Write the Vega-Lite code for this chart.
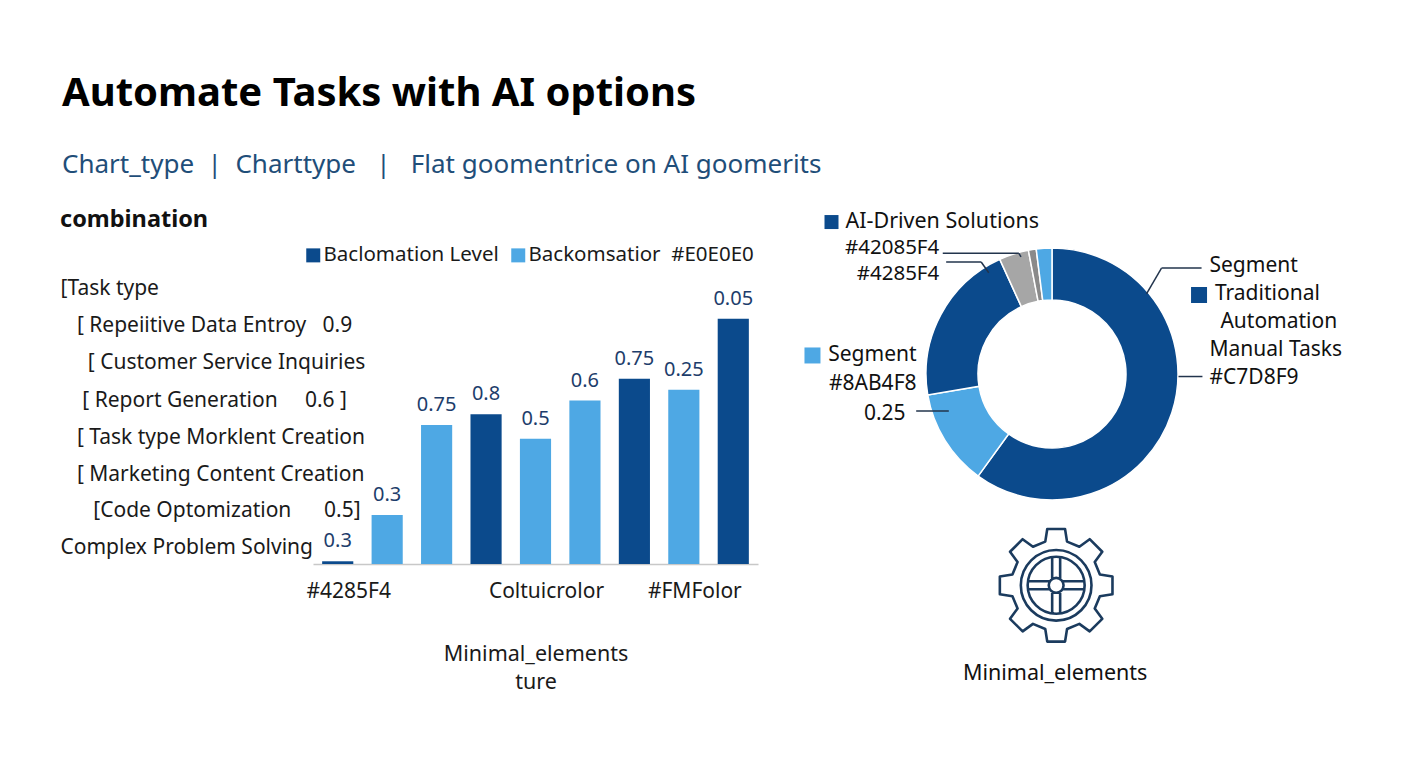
{
  "$schema": "https://vega.github.io/schema/vega-lite/v6.json",
  "background": "white",
  "padding": {"left": 60, "top": 73, "right": 10, "bottom": 5},
  "title": {
    "text": "Automate Tasks with AI options",
    "subtitle": "Chart_type\u00a0\u00a0|\u00a0\u00a0Charttype\u00a0\u00a0\u00a0|\u00a0\u00a0\u00a0Flat goomentrice on AI goomerits",
    "anchor": "start",
    "dx": 2,
    "fontSize": 40,
    "fontWeight": "bold",
    "color": "#000000",
    "subtitleFontSize": 26,
    "subtitleColor": "#1f4e79",
    "subtitlePadding": 38,
    "offset": 30
  },
  "resolve": {"scale": {"color": "independent"}, "legend": {"color": "independent"}},
  "config": {
    "font": "Noto Sans",
    "view": {"stroke": null},
    "concat": {"spacing": 46}
  },
  "hconcat": [
    {
      "width": 445,
      "height": 316,
      "title": {"text": "combination", "anchor": "start", "fontSize": 23.5, "fontWeight": "bold", "color": "#111111", "offset": 14},
      "data": {
        "values": [
          {"bar": "#4285F4", "level": 0.01, "label": "0.3", "series": "Baclomation Level"},
          {"bar": "Bar 2", "level": 0.18, "label": "0.3", "series": "Backomsatior\u00a0\u00a0#E0E0E0"},
          {"bar": "Bar 3", "level": 0.51, "label": "0.75", "series": "Backomsatior\u00a0\u00a0#E0E0E0"},
          {"bar": "Bar 4", "level": 0.55, "label": "0.8", "series": "Baclomation Level"},
          {"bar": "Coltuicrolor", "level": 0.46, "label": "0.5", "series": "Backomsatior\u00a0\u00a0#E0E0E0"},
          {"bar": "Bar 6", "level": 0.6, "label": "0.6", "series": "Backomsatior\u00a0\u00a0#E0E0E0"},
          {"bar": "Bar 7", "level": 0.68, "label": "0.75", "series": "Baclomation Level"},
          {"bar": "#FMFolor", "level": 0.64, "label": "0.25", "series": "Backomsatior\u00a0\u00a0#E0E0E0"},
          {"bar": "Bar 9", "level": 0.9, "label": "0.05", "series": "Baclomation Level"}
        ]
      },
      "layer": [
        {
          "mark": {"type": "bar"},
          "encoding": {
            "x": {
              "field": "bar",
              "type": "nominal",
              "sort": null,
              "scale": {"paddingInner": 0.37, "paddingOuter": 0.185},
              "axis": {
                "labelExpr": "indexof(['#4285F4', 'Coltuicrolor', '#FMFolor'], datum.value) >= 0 ? datum.value : ''",
                "labelAngle": 0,
                "ticks": false,
                "domainColor": "#c8c8c8",
                "domainWidth": 1.5,
                "labelFontSize": 21,
                "labelColor": "#1a1a1a",
                "labelPadding": 16,
                "labelOffset": 11,
                "title": ["Minimal_elements", "ture"],
                "titleFontSize": 21.5,
                "titleFontWeight": "normal",
                "titleColor": "#1a1a1a",
                "titlePadding": 42,
                "titleLineHeight": 28
              }
            },
            "y": {
              "field": "level",
              "type": "quantitative",
              "scale": {"domain": [0, 1.16], "nice": false},
              "axis": {
                "values": [1.01, 0.874, 0.738, 0.602, 0.466, 0.33, 0.195, 0.062],
                "labelExpr": "datum.value == 1.01 ? '[Task type' : datum.value == 0.874 ? '\u200b\u00a0\u00a0\u00a0[\u00a0Repeiitive Data Entroy\u00a0\u00a0\u00a00.9' : datum.value == 0.738 ? '\u200b\u00a0\u00a0\u00a0\u00a0\u00a0[\u00a0Customer Service Inquiries' : datum.value == 0.602 ? '\u200b\u00a0\u00a0\u00a0\u00a0[\u00a0Report Generation\u00a0\u00a0\u00a0\u00a0\u00a00.6\u00a0]' : datum.value == 0.466 ? '\u200b\u00a0\u00a0\u00a0[\u00a0Task type Morklent Creation' : datum.value == 0.33 ? '\u200b\u00a0\u00a0\u00a0[\u00a0Marketing Content Creation' : datum.value == 0.195 ? '\u200b\u00a0\u00a0\u00a0\u00a0\u00a0\u00a0[Code Optomization\u00a0\u00a0\u00a0\u00a0\u00a0\u00a00.5]' : datum.value == 0.062 ? 'Complex Problem Solving' : ''",
                "labelAlign": "left",
                "labelBaseline": "middle",
                "labelPadding": 253,
                "labelLimit": 400,
                "labelFontSize": 21,
                "labelColor": "#1a1a1a",
                "ticks": false,
                "domain": false,
                "grid": false,
                "title": null
              }
            },
            "color": {
              "field": "series",
              "type": "nominal",
              "scale": {
                "domain": ["Baclomation Level", "Backomsatior\u00a0\u00a0#E0E0E0"],
                "range": ["#0b4a8c", "#4ea8e4"]
              },
              "legend": {
                "orient": "none",
                "legendX": -10,
                "legendY": -3,
                "direction": "horizontal",
                "title": null,
                "symbolType": "square",
                "symbolSize": 196,
                "symbolStrokeWidth": 0,
                "labelFontSize": 20.5,
                "labelColor": "#1a1a1a",
                "labelLimit": 400,
                "labelOffset": 0,
                "columnPadding": 9,
                "encode": {
                  "symbols": {
                    "update": {
                      "fill": {"signal": "datum.value === 'Baclomation Level' ? '#3b88d6' : '#4ea8e4'"}
                    }
                  }
                }
              }
            }
          }
        },
        {
          "mark": {"type": "text", "baseline": "middle", "dy": -20, "fontSize": 20, "color": "#1d3d6b"},
          "encoding": {
            "x": {"field": "bar", "type": "nominal", "sort": null},
            "y": {"field": "level", "type": "quantitative"},
            "text": {"field": "label"}
          }
        }
      ]
    },
    {
      "width": 252,
      "height": 252,
      "layer": [
        {
          "data": {
            "values": [
              {"segment": "Traditional Automation", "share": 0.5997, "idx": 1},
              {"segment": "Segment #8AB4F8", "share": 0.1237, "idx": 2},
              {"segment": "#4285F4", "share": 0.2086, "idx": 3},
              {"segment": "#42085F4", "share": 0.038, "idx": 4},
              {"segment": "Other", "share": 0.01, "idx": 5},
              {"segment": "AI-Driven Solutions", "share": 0.02, "idx": 6}
            ]
          },
          "mark": {"type": "arc", "innerRadius": 74, "outerRadius": 126, "stroke": "white", "strokeWidth": 1.5},
          "encoding": {
            "theta": {"field": "share", "type": "quantitative", "stack": true},
            "order": {"field": "idx"},
            "color": {
              "field": "segment",
              "type": "nominal",
              "scale": {
                "domain": ["Traditional Automation", "Segment #8AB4F8", "#4285F4", "#42085F4", "Other", "AI-Driven Solutions"],
                "range": ["#0b4a8c", "#4ea8e4", "#0b4a8c", "#a6a6a6", "#8a8a8a", "#4ea8e4"]
              },
              "legend": null
            }
          }
        },
        {
          "data": {"values": [{"label": "AI-Driven Solutions"}]},
          "mark": {"type": "text", "align": "left", "baseline": "middle", "fontSize": 21.5, "color": "#111111"},
          "encoding": {
            "x": {"datum": -1.639, "type": "quantitative", "scale": {"domain": [-1, 1], "nice": false, "zero": false}, "axis": null},
            "y": {"datum": 1.206, "type": "quantitative", "scale": {"domain": [-1, 1], "nice": false, "zero": false}, "axis": null},
            "text": {"field": "label"}
          }
        },
        {
          "data": {"values": [{"label": ["#42085F4", "#4285F4"]}]},
          "mark": {"type": "text", "align": "right", "baseline": "middle", "fontSize": 20.5, "lineHeight": 25.5, "color": "#111111"},
          "encoding": {
            "x": {"datum": -0.895, "type": "quantitative", "scale": {"domain": [-1, 1], "nice": false, "zero": false}, "axis": null},
            "y": {"datum": 1.0, "type": "quantitative", "scale": {"domain": [-1, 1], "nice": false, "zero": false}, "axis": null},
            "text": {"field": "label"}
          }
        },
        {
          "data": {"values": [{"label": ["Segment", "#8AB4F8", "0.25\u00a0\u00a0\u200b"]}]},
          "mark": {"type": "text", "align": "right", "baseline": "middle", "fontSize": 21, "lineHeight": 29.5, "color": "#111111"},
          "encoding": {
            "x": {"datum": -1.075, "type": "quantitative", "scale": {"domain": [-1, 1], "nice": false, "zero": false}, "axis": null},
            "y": {"datum": 0.151, "type": "quantitative", "scale": {"domain": [-1, 1], "nice": false, "zero": false}, "axis": null},
            "text": {"field": "label"}
          }
        },
        {
          "data": {"values": [{"label": ["Segment", "\u200b\u00a0Traditional", "\u200b\u00a0\u00a0Automation", "Manual Tasks", "#C7D8F9"]}]},
          "mark": {"type": "text", "align": "left", "baseline": "middle", "fontSize": 21, "lineHeight": 28, "color": "#111111"},
          "encoding": {
            "x": {"datum": 1.25, "type": "quantitative", "scale": {"domain": [-1, 1], "nice": false, "zero": false}, "axis": null},
            "y": {"datum": 0.857, "type": "quantitative", "scale": {"domain": [-1, 1], "nice": false, "zero": false}, "axis": null},
            "text": {"field": "label"}
          }
        },
        {
          "data": {"values": [{"label": "Minimal_elements"}]},
          "mark": {"type": "text", "align": "center", "baseline": "middle", "fontSize": 21.5, "color": "#111111"},
          "encoding": {
            "x": {"datum": 0.025, "type": "quantitative", "scale": {"domain": [-1, 1], "nice": false, "zero": false}, "axis": null},
            "y": {"datum": -2.381, "type": "quantitative", "scale": {"domain": [-1, 1], "nice": false, "zero": false}, "axis": null},
            "text": {"field": "label"}
          }
        },
        {
          "data": {"values": [{"key": "AI-Driven Solutions"}]},
          "mark": {"type": "point", "shape": "square", "filled": true, "opacity": 1, "size": 196, "color": "#0b4a8c"},
          "encoding": {
            "x": {"datum": -1.75, "type": "quantitative", "scale": {"domain": [-1, 1], "nice": false, "zero": false}, "axis": null},
            "y": {"datum": 1.206, "type": "quantitative", "scale": {"domain": [-1, 1], "nice": false, "zero": false}, "axis": null}
          }
        },
        {
          "data": {"values": [{"key": "Segment"}]},
          "mark": {"type": "point", "shape": "square", "filled": true, "opacity": 1, "size": 256, "color": "#4ea8e4"},
          "encoding": {
            "x": {"datum": -1.901, "type": "quantitative", "scale": {"domain": [-1, 1], "nice": false, "zero": false}, "axis": null},
            "y": {"datum": 0.147, "type": "quantitative", "scale": {"domain": [-1, 1], "nice": false, "zero": false}, "axis": null}
          }
        },
        {
          "data": {"values": [{"key": "Traditional Automation"}]},
          "mark": {"type": "point", "shape": "square", "filled": true, "opacity": 1, "size": 256, "color": "#0b4a8c"},
          "encoding": {
            "x": {"datum": 1.167, "type": "quantitative", "scale": {"domain": [-1, 1], "nice": false, "zero": false}, "axis": null},
            "y": {"datum": 0.627, "type": "quantitative", "scale": {"domain": [-1, 1], "nice": false, "zero": false}, "axis": null}
          }
        },
        {
          "data": {"values": [{}]},
          "mark": {"type": "rule", "color": "#22344d", "strokeWidth": 1.5},
          "encoding": {
            "x": {"datum": -0.867, "type": "quantitative", "scale": {"domain": [-1, 1], "nice": false, "zero": false}, "axis": null},
            "x2": {"datum": -0.263},
            "y": {"datum": 0.958, "type": "quantitative", "scale": {"domain": [-1, 1], "nice": false, "zero": false}, "axis": null},
            "y2": {"datum": 0.958}
          }
        },
        {
          "data": {"values": [{}]},
          "mark": {"type": "rule", "color": "#22344d", "strokeWidth": 1.5},
          "encoding": {
            "x": {"datum": -0.263, "type": "quantitative", "scale": {"domain": [-1, 1], "nice": false, "zero": false}, "axis": null},
            "x2": {"datum": -0.246},
            "y": {"datum": 0.958, "type": "quantitative", "scale": {"domain": [-1, 1], "nice": false, "zero": false}, "axis": null},
            "y2": {"datum": 0.929}
          }
        },
        {
          "data": {"values": [{}]},
          "mark": {"type": "rule", "color": "#22344d", "strokeWidth": 1.5},
          "encoding": {
            "x": {"datum": -0.84, "type": "quantitative", "scale": {"domain": [-1, 1], "nice": false, "zero": false}, "axis": null},
            "x2": {"datum": -0.562},
            "y": {"datum": 0.889, "type": "quantitative", "scale": {"domain": [-1, 1], "nice": false, "zero": false}, "axis": null},
            "y2": {"datum": 0.889}
          }
        },
        {
          "data": {"values": [{}]},
          "mark": {"type": "rule", "color": "#22344d", "strokeWidth": 1.5},
          "encoding": {
            "x": {"datum": -0.562, "type": "quantitative", "scale": {"domain": [-1, 1], "nice": false, "zero": false}, "axis": null},
            "x2": {"datum": -0.502},
            "y": {"datum": 0.889, "type": "quantitative", "scale": {"domain": [-1, 1], "nice": false, "zero": false}, "axis": null},
            "y2": {"datum": 0.804}
          }
        },
        {
          "data": {"values": [{}]},
          "mark": {"type": "rule", "color": "#22344d", "strokeWidth": 1.5},
          "encoding": {
            "x": {"datum": -1.078, "type": "quantitative", "scale": {"domain": [-1, 1], "nice": false, "zero": false}, "axis": null},
            "x2": {"datum": -0.819},
            "y": {"datum": -0.294, "type": "quantitative", "scale": {"domain": [-1, 1], "nice": false, "zero": false}, "axis": null},
            "y2": {"datum": -0.294}
          }
        },
        {
          "data": {"values": [{}]},
          "mark": {"type": "rule", "color": "#22344d", "strokeWidth": 1.5},
          "encoding": {
            "x": {"datum": 1.187, "type": "quantitative", "scale": {"domain": [-1, 1], "nice": false, "zero": false}, "axis": null},
            "x2": {"datum": 0.869},
            "y": {"datum": 0.841, "type": "quantitative", "scale": {"domain": [-1, 1], "nice": false, "zero": false}, "axis": null},
            "y2": {"datum": 0.841}
          }
        },
        {
          "data": {"values": [{}]},
          "mark": {"type": "rule", "color": "#22344d", "strokeWidth": 1.5},
          "encoding": {
            "x": {"datum": 0.869, "type": "quantitative", "scale": {"domain": [-1, 1], "nice": false, "zero": false}, "axis": null},
            "x2": {"datum": 0.75},
            "y": {"datum": 0.841, "type": "quantitative", "scale": {"domain": [-1, 1], "nice": false, "zero": false}, "axis": null},
            "y2": {"datum": 0.635}
          }
        },
        {
          "data": {"values": [{}]},
          "mark": {"type": "rule", "color": "#22344d", "strokeWidth": 1.5},
          "encoding": {
            "x": {"datum": 1.004, "type": "quantitative", "scale": {"domain": [-1, 1], "nice": false, "zero": false}, "axis": null},
            "x2": {"datum": 1.194},
            "y": {"datum": -0.02, "type": "quantitative", "scale": {"domain": [-1, 1], "nice": false, "zero": false}, "axis": null},
            "y2": {"datum": -0.02}
          }
        },
        {
          "data": {"values": [{"icon": "gear"}]},
          "mark": {
            "type": "point",
            "filled": false,
            "opacity": 1,
            "size": 12996,
            "stroke": "#1b3b5e",
            "strokeWidth": 2.6,
            "strokeJoin": "round",
            "shape": "M-0.191,-0.767L-0.156,-0.988L0.156,-0.988L0.191,-0.767L0.407,-0.677L0.588,-0.809L0.809,-0.588L0.677,-0.407L0.767,-0.191L0.988,-0.156L0.988,0.156L0.767,0.191L0.677,0.407L0.809,0.588L0.588,0.809L0.407,0.677L0.191,0.767L0.156,0.988L-0.156,0.988L-0.191,0.767L-0.407,0.677L-0.588,0.809L-0.809,0.588L-0.677,0.407L-0.767,0.191L-0.988,0.156L-0.988,-0.156L-0.767,-0.191L-0.677,-0.407L-0.809,-0.588L-0.588,-0.809L-0.407,-0.677ZM0.62,0C0.62,0.342,0.342,0.62,0,0.62C-0.342,0.62,-0.62,0.342,-0.62,0C-0.62,-0.342,-0.342,-0.62,0,-0.62C0.342,-0.62,0.62,-0.342,0.62,0ZM0.5,0C0.5,0.276,0.276,0.5,0,0.5C-0.276,0.5,-0.5,0.276,-0.5,0C-0.5,-0.276,-0.276,-0.5,0,-0.5C0.276,-0.5,0.5,-0.276,0.5,0ZM0.13,0C0.13,0.072,0.072,0.13,0,0.13C-0.072,0.13,-0.13,0.072,-0.13,0C-0.13,-0.072,-0.072,-0.13,0,-0.13C0.072,-0.13,0.13,-0.072,0.13,0ZM-0.07,-0.11L-0.07,-0.495M0.07,-0.11L0.07,-0.495M-0.07,0.11L-0.07,0.495M0.07,0.11L0.07,0.495M-0.11,-0.07L-0.495,-0.07M-0.11,0.07L-0.495,0.07M0.11,-0.07L0.495,-0.07M0.11,0.07L0.495,0.07"
          },
          "encoding": {
            "x": {"datum": 0.033, "type": "quantitative", "scale": {"domain": [-1, 1], "nice": false, "zero": false}, "axis": null},
            "y": {"datum": -1.677, "type": "quantitative", "scale": {"domain": [-1, 1], "nice": false, "zero": false}, "axis": null}
          }
        }
      ]
    }
  ]
}
